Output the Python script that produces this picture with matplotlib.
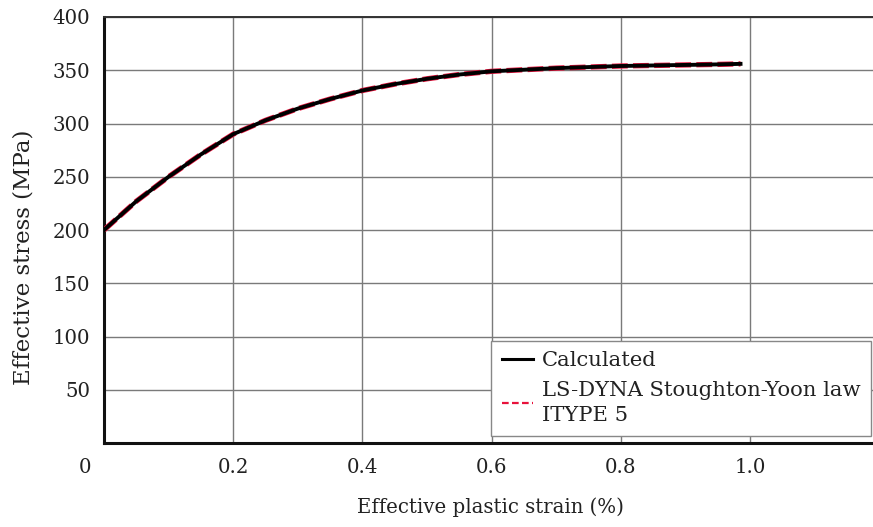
import matplotlib
matplotlib.use("Agg")
import matplotlib.pyplot as plt
import matplotlib.transforms as mtransforms
from matplotlib.lines import Line2D

strain = [0.0, 0.05, 0.1, 0.15, 0.2, 0.25, 0.3, 0.35, 0.4, 0.45, 0.5, 0.55,
          0.6, 0.65, 0.7, 0.75, 0.8, 0.85, 0.9, 0.95, 0.985]
calculated = [200, 227, 250, 271, 290, 303, 314, 323, 331, 337, 342, 346,
              349, 350.5, 352, 353, 354, 354.5, 355, 355.5, 356]
lsdyna = list(calculated)

xticks = [0, 0.2, 0.4, 0.6, 0.8, 1.0]
xticklabels = ["0", "0.2", "0.4", "0.6", "0.8", "1.0"]
yticks = [50, 100, 150, 200, 250, 300, 350, 400]

plt.rcParams['font.family'] = ['DejaVu Serif']

fig = plt.figure(figsize=(8.73, 5.27), dpi=100)
ax = fig.add_axes([104/873, 1 - 443/527, 1 - 104/873, (443 - 17)/527])

ax.plot(strain, lsdyna, color='#e8123c', lw=3.8, ls=(0, (3, 1)), zorder=3)
ax.plot(strain, calculated, color='black', lw=2.8, zorder=4)

ax.set_xlim(0, 1.19)
ax.set_ylim(0, 400)
ax.set_xticks(xticks)
ax.set_xticklabels(xticklabels)
ax.set_yticks(yticks)
ax.tick_params(length=0, labelsize=14.2, colors='#222222')
ax.tick_params(axis='y', pad=10)
ax.tick_params(axis='x', pad=11)

lbl0 = ax.get_xticklabels()[0]
lbl0.set_transform(lbl0.get_transform() + mtransforms.ScaledTranslation(-19/100, 0, fig.dpi_scale_trans))

ax.grid(True, color='#7a7a7a', lw=1.0)
ax.set_axisbelow(True)

for s in ['left', 'bottom']:
    ax.spines[s].set_linewidth(2.2)
    ax.spines[s].set_color('#111111')
ax.spines['top'].set_linewidth(1.4)
ax.spines['top'].set_color('#333333')
ax.spines['right'].set_visible(False)

ax.set_xlabel("Effective plastic strain (%)", fontsize=14.2, color='#222222')
ax.set_ylabel("Effective stress (MPa)", fontsize=16.5, color='#222222')
ax.xaxis.set_label_coords(0.502, -0.127)
ax.yaxis.set_label_coords(-0.090, 0.437)

h_calc = Line2D([], [], color='black', lw=2.2)
h_ls = Line2D([], [], color='#e8123c', lw=1.6, ls=(0, (3, 1.5)))
leg = ax.legend([h_calc, h_ls], ["Calculated", "LS-DYNA Stoughton-Yoon law\nITYPE 5"],
                loc='lower right', bbox_to_anchor=(1 - 2/769, 7/426),
                fontsize=15.2, frameon=True, fancybox=False, framealpha=1,
                edgecolor='#888888', handlelength=1.5, handletextpad=0.4,
                borderpad=0.5, labelspacing=0.5, borderaxespad=0)
leg.get_frame().set_linewidth(1.0)
for t in leg.get_texts():
    t.set_color('#222222')
    t.set_linespacing(1.45)

fig.savefig("out.png", dpi=100)
